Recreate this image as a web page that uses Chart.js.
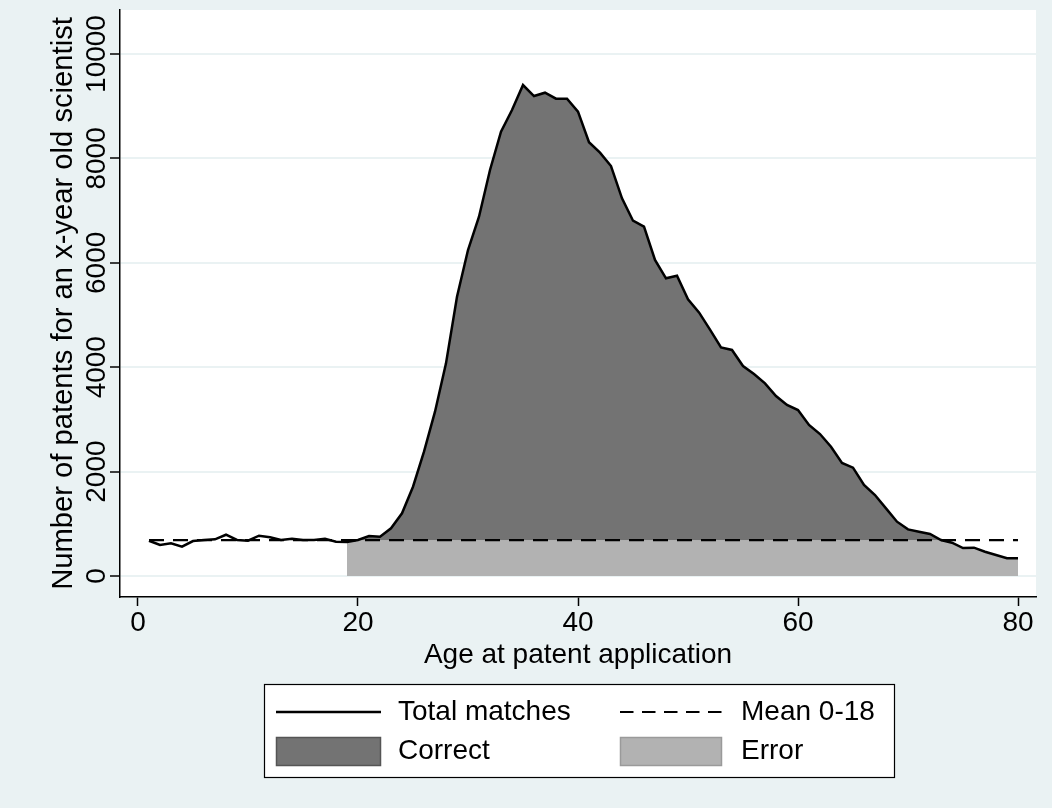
<!DOCTYPE html>
<html>
<head>
<meta charset="utf-8">
<script src="https://cdn.jsdelivr.net/npm/chart.js@4.4.1/dist/chart.umd.min.js"></script>
<style>
html,body{margin:0;padding:0;background:#eaf2f3;}
#wrap{width:1052px;height:808px;position:relative;}
</style>
</head>
<body>
<div id="wrap"><canvas id="c" width="1052" height="808"></canvas></div>
<script>
// ---- data ----
const ages = [1,2,3,4,5,6,7,8,9,10,11,12,13,14,15,16,17,18,19,20,
  21,22,23,24,25,26,27,28,29,30,31,32,33,34,35,36,37,38,39,40,
  41,42,43,44,45,46,47,48,49,50,51,52,53,54,55,56,57,58,59,60,
  61,62,63,64,65,66,67,68,69,70,71,72,73,74,75,76,77,78,79,80];
const totalMatches = [676,594,626,561,670,690,703,791,690,676,772,741,690,715,690,690,715,657,651,690,
  766,753,913,1201,1711,2382,3148,4074,5350,6245,6883,7778,8512,8927,9406,9195,9259,9144,9144,8895,
  8310,8110,7854,7235,6807,6692,6054,5703,5753,5301,5050,4720,4378,4330,4023,3870,3691,3448,3276,3180,
  2893,2720,2477,2165,2075,1743,1552,1296,1041,894,849,805,690,638,536,543,466,402,339,339];
const mean0to18 = 686;
const errorStartAge = 19;
const xTickValues = [0,20,40,60,80];
const yTickValues = [0,2000,4000,6000,8000,10000];
const seriesNames = ['Total matches','Mean 0-18','Correct','Error'];
const xTitle = 'Age at patent application';
const yTitle = 'Number of patents for an x-year old scientist';

// ---- derived tables ----
const totalPts = ages.map((a,i)=>({x:a,y:totalMatches[i]}));
const meanPts = [{x:ages[0],y:mean0to18},{x:ages[ages.length-1],y:mean0to18}];
const tailIdx = ages.map((a,i)=>i).filter(i=>ages[i]>=errorStartAge);
const correctPts = tailIdx.map(i=>({x:ages[i],y:Math.max(totalMatches[i],mean0to18)}));
const errorPts = tailIdx.map(i=>({x:ages[i],y:Math.min(totalMatches[i],mean0to18)}));

const FONT = "'Liberation Sans', Arial, Helvetica, sans-serif";
const FS = 28;
const FSY = 29.2;
const BG = '#eaf2f3';
const DARK = '#737373';
const LIGHT = '#b2b2b2';

Chart.defaults.font.family = FONT;
Chart.defaults.color = '#000';

const bgPlugin = {
  id:'bg',
  beforeDraw(chart){
    const {ctx, chartArea:a} = chart;
    ctx.save();
    ctx.fillStyle = BG;
    ctx.fillRect(0,0,chart.width,chart.height);
    ctx.fillStyle = '#fff';
    ctx.fillRect(a.left,a.top,a.right-a.left,a.bottom-a.top);
    ctx.restore();
  }
};

const legendPlugin = {
  id:'boxLegend',
  afterDraw(chart){
    const ctx = chart.ctx;
    const ds = chart.data.datasets;
    ctx.save();
    ctx.fillStyle = '#fff';
    ctx.fillRect(264,684,630,93);
    ctx.strokeStyle = '#000';
    ctx.lineWidth = 1.2;
    ctx.strokeRect(264.5,684.5,630,93);
    const col1 = 276, col2 = 620, txt1 = 398, txt2 = 741;
    const row1 = 712, row2 = 751;
    ctx.font = FS + 'px ' + FONT;
    ctx.textBaseline = 'middle';
    ctx.textAlign = 'left';
    ctx.fillStyle = '#000';
    ctx.strokeStyle = ds[0].borderColor;
    ctx.lineWidth = ds[0].borderWidth;
    ctx.beginPath(); ctx.moveTo(col1,row1); ctx.lineTo(col1+105,row1); ctx.stroke();
    ctx.fillText(ds[0].label, txt1, row1);
    ctx.strokeStyle = ds[1].borderColor;
    ctx.lineWidth = ds[1].borderWidth;
    ctx.setLineDash([13.5,8.5]);
    ctx.beginPath(); ctx.moveTo(col2,row1); ctx.lineTo(col2+102,row1); ctx.stroke();
    ctx.setLineDash([]);
    ctx.fillText(ds[1].label, txt2, row1);
    ctx.fillStyle = ds[2].backgroundColor;
    ctx.fillRect(col1,737,105,29);
    ctx.strokeStyle = '#555';
    ctx.lineWidth = 1.5;
    ctx.strokeRect(col1+0.5,737.5,104,28);
    ctx.fillStyle = ds[3].backgroundColor;
    ctx.fillRect(col2,737,102,29);
    ctx.strokeStyle = '#9a9a9a';
    ctx.strokeRect(col2+0.5,737.5,101,28);
    ctx.fillStyle = '#000';
    ctx.fillText(ds[2].label, txt1, row2);
    ctx.fillText(ds[3].label, txt2, row2);
    ctx.restore();
  }
};

new Chart(document.getElementById('c'), {
  type:'line',
  data:{
    datasets:[
      {label:seriesNames[0], data:totalPts, borderColor:'#000', borderWidth:2.5, pointRadius:0, fill:false, tension:0},
      {label:seriesNames[1], data:meanPts, borderColor:'#000', borderWidth:2.2, borderDash:[15,9], pointRadius:0, fill:false, tension:0},
      {label:seriesNames[2], data:correctPts, borderWidth:0, borderColor:'rgba(0,0,0,0)', backgroundColor:DARK, pointRadius:0, fill:{value:mean0to18}, tension:0},
      {label:seriesNames[3], data:errorPts, borderWidth:0, borderColor:'rgba(0,0,0,0)', backgroundColor:LIGHT, pointRadius:0, fill:'origin', tension:0}
    ]
  },
  options:{
    responsive:false,
    animation:false,
    devicePixelRatio:1,
    layout:{padding:{left:0,top:10,right:16,bottom:135.5}},
    plugins:{legend:{display:false}, tooltip:{enabled:false}},
    scales:{
      x:{
        type:'linear', min:-1.636, max:81.636,
        afterBuildTicks:s=>{s.ticks = xTickValues.map(v=>({value:v}));},
        afterFit:s=>{s.height = 75.5; s.paddingLeft = 0; s.paddingRight = 0;},
        border:{display:true,color:'#000',width:1.5},
        grid:{display:true,drawOnChartArea:false,drawTicks:true,tickLength:9,tickColor:'#000',tickWidth:1.5},
        ticks:{autoSkip:false,maxRotation:0,minRotation:0,padding:0,font:{size:FS},color:'#000'},
        title:{display:true,text:xTitle,font:{size:FS},color:'#000',padding:0}
      },
      y:{
        type:'linear', min:-402, max:10843,
        afterBuildTicks:s=>{s.ticks = yTickValues.map(v=>({value:v}));},
        afterFit:s=>{s.width = 120; s.paddingTop = 0; s.paddingBottom = 0;},
        border:{display:true,color:'#000',width:1.5},
        grid:{color:BG,lineWidth:2,drawTicks:true,tickLength:10,tickColor:'#000',tickWidth:1.5},
        ticks:{autoSkip:false,minRotation:90,maxRotation:90,crossAlign:'center',padding:-25.9,font:{size:FS},color:'#000',callback:v=>String(v)},
        title:{display:true,text:yTitle,font:{size:FSY},color:'#000',padding:{top:46.5,bottom:0}}
      }
    }
  },
  plugins:[bgPlugin, legendPlugin]
});
</script>
</body>
</html>
